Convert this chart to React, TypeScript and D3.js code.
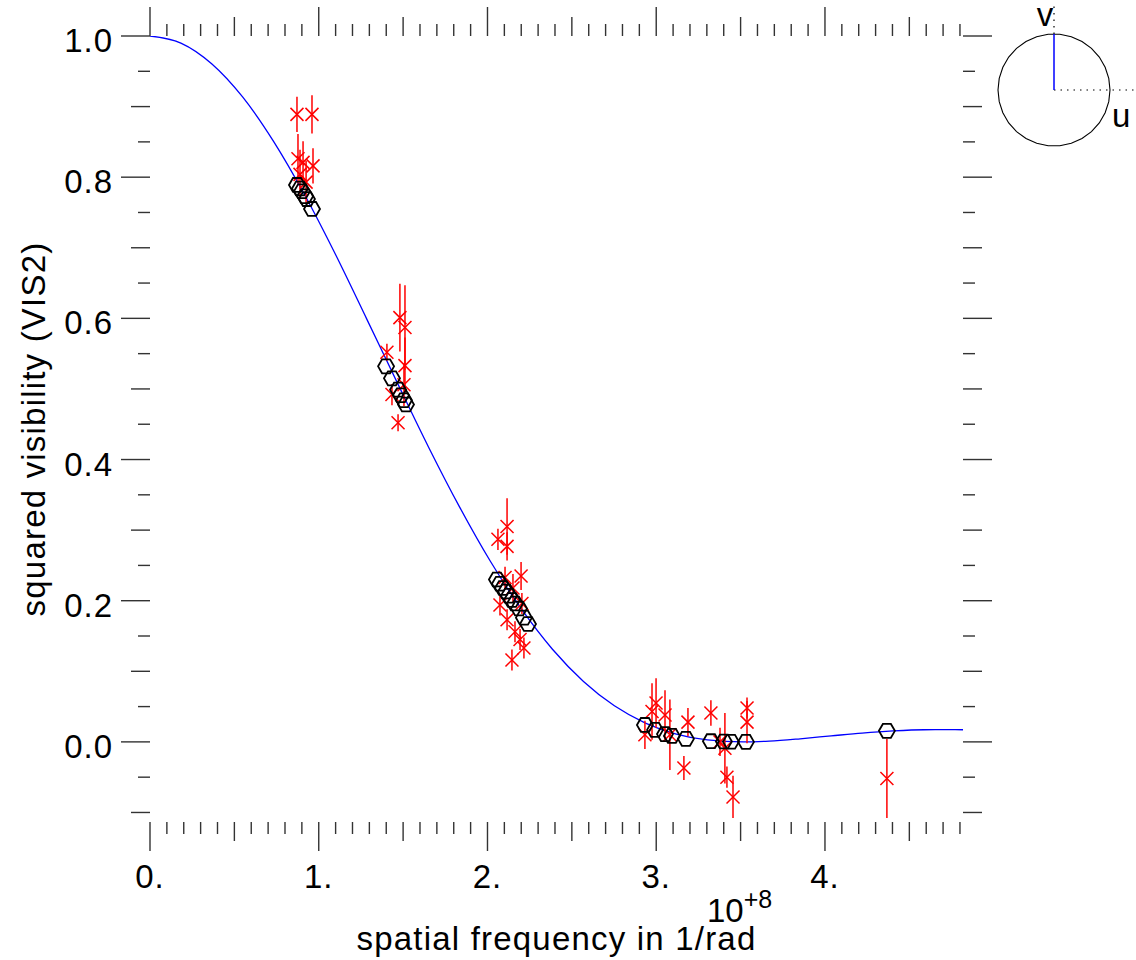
import React from "react";
import * as d3 from "d3";

// spatial frequency in units of 1e8 / rad
// measured squared visibilities: [frequency, vis2, error]
const observed: [number, number, number][] = [
  [0.871, 0.889, 0.025],
  [0.960, 0.889, 0.027],
  [0.877, 0.826, 0.035],
  [0.907, 0.821, 0.03],
  [0.889, 0.804, 0.035],
  [0.966, 0.816, 0.025],
  [0.925, 0.793, 0.03],
  [1.404, 0.552, 0.012],
  [1.481, 0.601, 0.048],
  [1.511, 0.587, 0.06],
  [1.511, 0.533, 0.04],
  [1.505, 0.506, 0.03],
  [1.434, 0.492, 0.015],
  [1.470, 0.452, 0.012],
  [2.116, 0.305, 0.04],
  [2.062, 0.287, 0.015],
  [2.116, 0.277, 0.02],
  [2.199, 0.235, 0.02],
  [2.104, 0.233, 0.015],
  [2.151, 0.218, 0.02],
  [2.074, 0.194, 0.015],
  [2.204, 0.196, 0.015],
  [2.116, 0.173, 0.015],
  [2.163, 0.156, 0.015],
  [2.193, 0.145, 0.015],
  [2.216, 0.133, 0.015],
  [2.145, 0.116, 0.015],
  [2.933, 0.010, 0.02],
  [2.975, 0.043, 0.04],
  [2.999, 0.055, 0.035],
  [3.052, 0.038, 0.035],
  [3.081, 0.010, 0.05],
  [3.164, -0.037, 0.017],
  [3.188, 0.028, 0.02],
  [3.324, 0.041, 0.018],
  [3.378, 0.0, 0.02],
  [3.407, -0.009, 0.05],
  [3.419, -0.050, 0.015],
  [3.455, -0.078, 0.03],
  [3.538, 0.048, 0.015],
  [3.538, 0.028, 0.03],
  [4.367, -0.052, 0.056],
];

// model values at the observed frequencies (hexagons)
const modelAtData: [number, number][] = [
  [0.871, 0.789], [0.889, 0.784], [0.901, 0.780], [0.919, 0.773], [0.930, 0.769], [0.960, 0.755],
  [1.399, 0.532], [1.434, 0.515], [1.470, 0.499], [1.487, 0.491], [1.505, 0.484], [1.517, 0.478],
  [2.056, 0.230], [2.074, 0.224], [2.092, 0.218], [2.110, 0.213], [2.127, 0.207],
  [2.145, 0.201], [2.163, 0.196], [2.187, 0.189], [2.216, 0.176], [2.240, 0.167],
  [2.933, 0.024], [2.993, 0.017], [3.052, 0.011], [3.093, 0.0085], [3.176, 0.0043],
  [3.324, 0.001], [3.401, 0.0005], [3.443, 0.0002], [3.532, 0.0],
  [4.367, 0.0156],
];

// model curve
const modelFreq = [0, 0.183, 0.367, 0.55, 0.734, 0.917, 1.101, 1.284, 1.468, 1.651, 1.835, 2.018,
  2.202, 2.385, 2.569, 2.752, 2.936, 3.119, 3.303, 3.515, 3.67, 3.853, 4.037, 4.22, 4.404, 4.587, 4.771, 4.818];
const modelVis2 = [1.0, 0.99, 0.9604, 0.9133, 0.85, 0.7747, 0.6897, 0.5993, 0.5075, 0.4175, 0.3326, 0.2555,
  0.1879, 0.1312, 0.0856, 0.0511, 0.0267, 0.0111, 0.0028, 0.0, 0.0011, 0.0044, 0.0085, 0.0125, 0.0155, 0.0172, 0.0174, 0.0172];

const xTickValues = [0, 1, 2, 3, 4];
const xTickLabels = ["0.", "1.", "2.", "3.", "4."];
const yTickValues = [0, 0.2, 0.4, 0.6, 0.8, 1.0];
const yTickLabels = ["0.0", "0.2", "0.4", "0.6", "0.8", "1.0"];

const W = 1136;
const H = 960;
const left = 150, right = 963, top = 36, bottom = 822;
const font = "'Liberation Sans', Arial, Helvetica, sans-serif";
const tickColor = "#333";

const App = () => {
  const x = d3.scaleLinear().domain([0, 4.818]).range([left, right]);
  const y = d3.scaleLinear().domain([-0.1135, 1.0]).range([bottom, top]);

  const curve = d3
    .line<number>()
    .x((d, i) => x(modelFreq[i]))
    .y((d) => y(d))
    .curve(d3.curveMonotoneX);

  const hexR = 8;
  const hexPts: [number, number][] = d3.range(6).map((k) => [
    hexR * Math.cos((k * Math.PI) / 3),
    hexR * Math.sin((k * Math.PI) / 3),
  ]);
  const hexPath = d3.line()(hexPts) + "Z";

  // x ticks every 0.1, medium at 0.5, major at 1
  const xTicks = d3.range(0, 49).map((i) => ({
    v: i / 10,
    len: i % 10 === 0 ? 29 : i % 5 === 0 ? 19 : 12,
  }));
  // y ticks every 0.05, medium at 0.1, major at 0.2
  const yTicks = d3.range(-2, 21).map((i) => ({
    v: i * 0.05,
    len: i % 4 === 0 ? 29 : i % 2 === 0 ? 19 : 12,
  }));

  const cx = 1054, cy = 90, cr = 56;
  const circlePts: [number, number][] = d3.range(30).map((k) => [
    cx + cr * Math.cos((k * Math.PI) / 15),
    cy + cr * Math.sin((k * Math.PI) / 15),
  ]);

  return (
    <svg
      width={W}
      height={H}
      style={{ position: "absolute", left: 0, top: 0, background: "#fff" }}
      fontFamily={font}
    >
      <defs>
        <clipPath id="plotClip">
          <rect x={left} y={top} width={right - left} height={bottom - top} />
        </clipPath>
      </defs>

      {/* ticks */}
      <g stroke={tickColor} strokeWidth={1.4}>
        {xTicks.map((t, i) => (
          <g key={"x" + i}>
            <line x1={x(t.v)} x2={x(t.v)} y1={bottom} y2={bottom + t.len} />
            <line x1={x(t.v)} x2={x(t.v)} y1={top} y2={top - t.len} />
          </g>
        ))}
        {yTicks.map((t, i) => (
          <g key={"y" + i}>
            <line x1={left} x2={left - t.len} y1={y(t.v)} y2={y(t.v)} />
            <line x1={right} x2={right + t.len} y1={y(t.v)} y2={y(t.v)} />
          </g>
        ))}
      </g>

      {/* tick labels */}
      <g fontSize={33} fill="#000">
        {xTickValues.map((v, i) => (
          <text key={i} x={x(v)} y={888} textAnchor="middle" letterSpacing={1}>
            {xTickLabels[i]}
          </text>
        ))}
        {yTickValues.map((v, i) => (
          <text key={i} x={113} y={y(v) + 16} textAnchor="end" letterSpacing={1}>
            {yTickLabels[i]}
          </text>
        ))}
        <text x={707} y={922}>
          10
          <tspan fontSize={25} dy={-14}>+8</tspan>
        </text>
        <text x={(left + right) / 2} y={950} textAnchor="middle" letterSpacing={1.2}>
          spatial frequency in 1/rad
        </text>
        <text
          transform={`translate(45,${(top + bottom) / 2}) rotate(-90)`}
          textAnchor="middle"
          letterSpacing={1.2}
        >
          squared visibility (VIS2)
        </text>
      </g>

      <g clipPath="url(#plotClip)">
        <path d={curve(modelVis2) || ""} fill="none" stroke="#0000ff" strokeWidth={1.3} />

        <g stroke="#ff0000" strokeWidth={1.5}>
          {observed.map(([f, v, e], i) => (
            <g key={i}>
              <line x1={x(f)} x2={x(f)} y1={y(v - e)} y2={y(v + e)} />
              <line x1={x(f) - 6.5} x2={x(f) + 6.5} y1={y(v) - 6.5} y2={y(v) + 6.5} />
              <line x1={x(f) - 6.5} x2={x(f) + 6.5} y1={y(v) + 6.5} y2={y(v) - 6.5} />
            </g>
          ))}
        </g>

        <g fill="none" stroke="#000" strokeWidth={1.8}>
          {modelAtData.map(([f, v], i) => (
            <path key={i} d={hexPath} transform={`translate(${x(f)},${y(v)})`} />
          ))}
        </g>
      </g>

      {/* uv coverage inset */}
      <g>
        <path d={(d3.line()(circlePts) || "") + "Z"} fill="none" stroke="#000" strokeWidth={1.1} />
        <line x1={cx} x2={W} y1={cy} y2={cy} stroke="#000" strokeWidth={1.2} strokeDasharray="1.5 5" />
        <line x1={cx} x2={cx} y1={cy - cr} y2={4} stroke="#000" strokeWidth={1.2} strokeDasharray="1.5 5" />
        <line x1={cx} x2={cx} y1={cy} y2={cy - cr} stroke="#0000ff" strokeWidth={1.5} />
        <text x={1045} y={26} fontSize={33} textAnchor="middle">v</text>
        <text x={1112} y={127} fontSize={33}>u</text>
      </g>
    </svg>
  );
};

export default App;
